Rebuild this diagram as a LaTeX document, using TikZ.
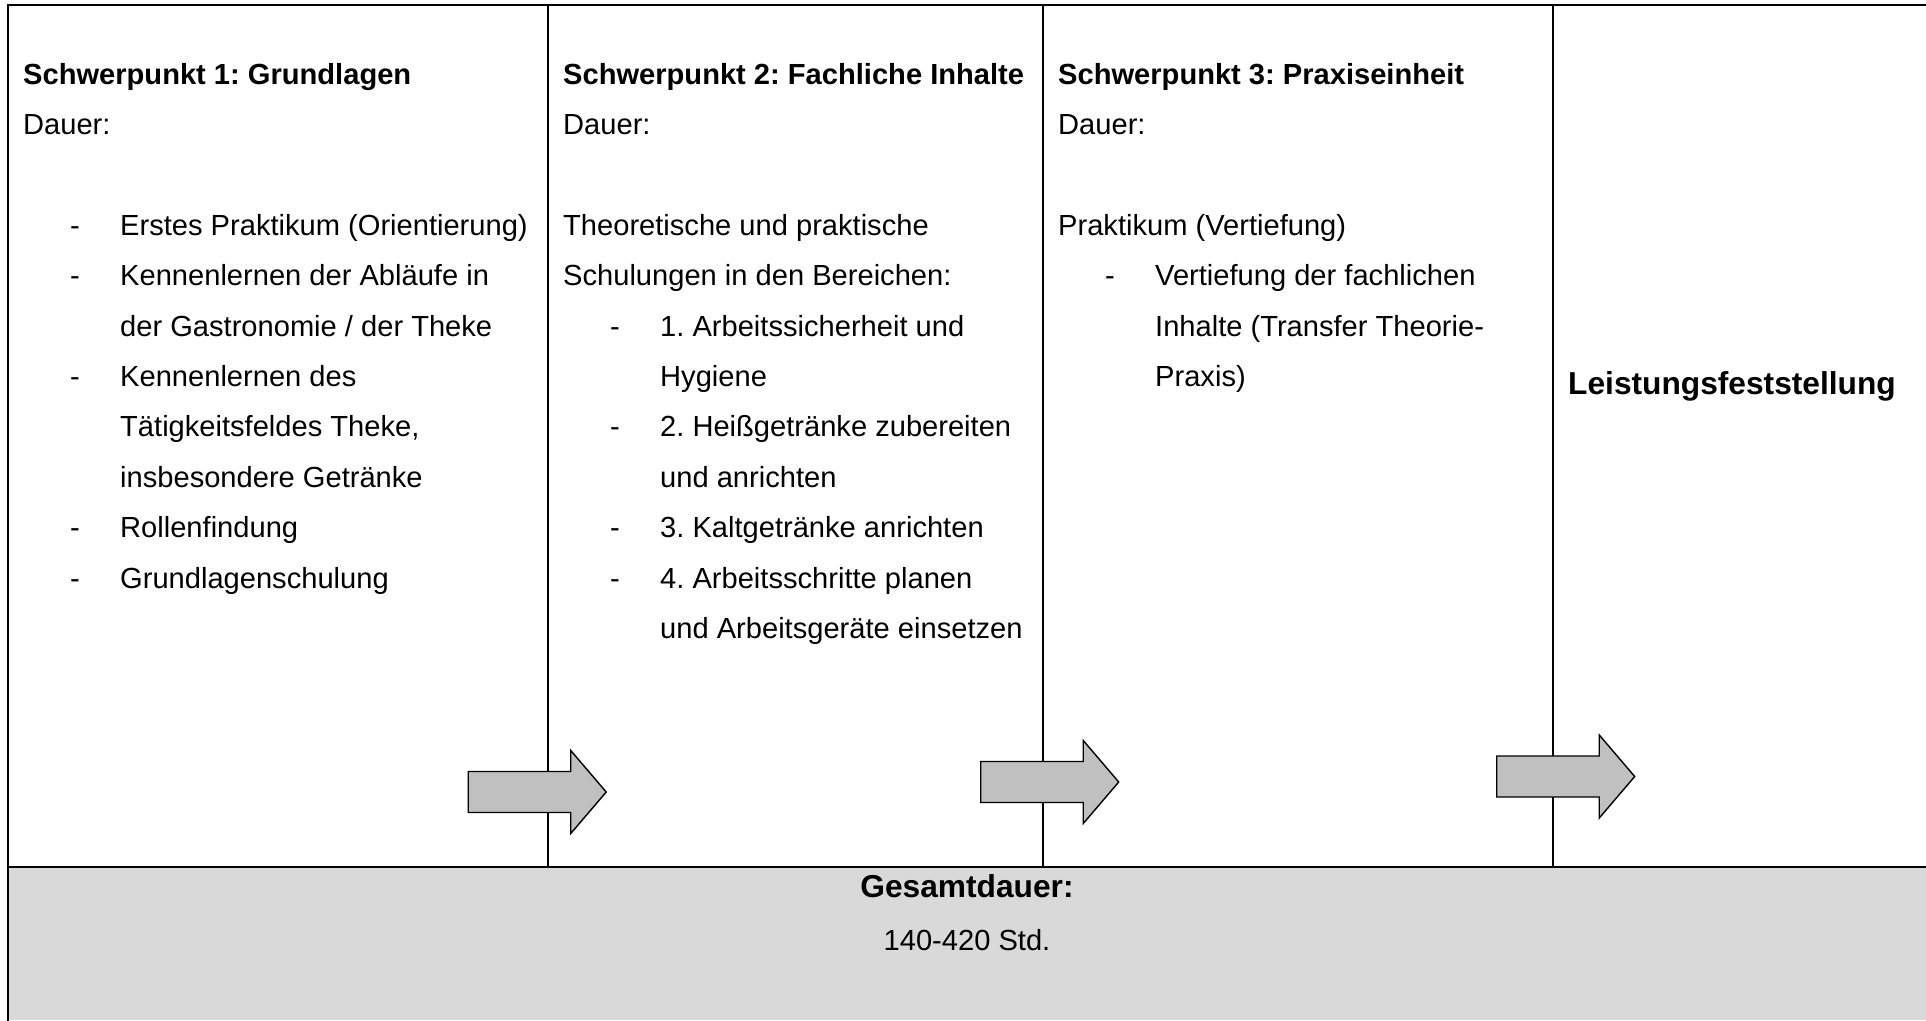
\documentclass[tikz,border=0pt]{standalone}
\usepackage{fontspec}
\setmainfont{Liberation Sans}
\usepackage{tikz}
\usetikzlibrary{shapes.arrows}
\definecolor{bandgray}{HTML}{D9D9D9}
\definecolor{arrowgray}{HTML}{C0C0C0}
\frenchspacing

\begin{document}
\begin{tikzpicture}[x=1pt, y=-1pt,
    frame/.style={line width=2.8pt, line cap=rect},
    txt/.style={anchor=base west, inner sep=0pt, font=\fontsize{29.1}{35}\selectfont},
    hdr/.style={txt, font=\fontsize{29.1}{35}\selectfont\bfseries},
    big/.style={anchor=base, inner sep=0pt, font=\fontsize{31.7}{38}\selectfont\bfseries},
    blockarrow/.style={single arrow, draw=black, fill=arrowgray, line width=1.4pt,
        minimum height=138pt, inner xsep=0pt, inner ysep=19.8pt,
        single arrow head extend=21pt, single arrow tip angle=99, anchor=tail}
]
\useasboundingbox (0,0) rectangle (1926,1020);

% table
\fill[bandgray] (8,867) rectangle (1926,1020);
\draw[frame] (8,1020) -- (8,5) -- (1926,5);
\draw[frame] (8,867) -- (1926,867);
\foreach \x in {548,1043,1553}
    \draw[frame] (\x,5) -- (\x,867);

% Schwerpunkt 1
\node[hdr] (hOne) at (23,84) {Schwerpunkt 1: Grundlagen};
\node[txt] (dOne) at (23,134.4) {Dauer:};
\foreach \n/\txt in {3/Erstes Praktikum (Orientierung), 4/Kennenlernen der Abläufe in,
        5/{der Gastronomie / der Theke}, 6/Kennenlernen des, 7/{Tätigkeitsfeldes Theke,},
        8/insbesondere Getränke, 9/Rollenfindung, 10/Grundlagenschulung}
    \node[txt] (One\n) at (120,{84+50.4*\n}) {\txt};
\foreach \n in {3,4,6,9,10}
    \node[txt] (OneDash\n) at (70,{84+50.4*\n}) {-};

% Schwerpunkt 2
\node[hdr] (hTwo) at (563,84) {Schwerpunkt 2: Fachliche Inhalte};
\node[txt] (dTwo) at (563,134.4) {Dauer:};
\foreach \n/\x/\txt in {3/563/Theoretische und praktische, 4/563/Schulungen in den Bereichen:,
        5/660/1. Arbeitssicherheit und, 6/660/Hygiene, 7/660/2. Heißgetränke zubereiten,
        8/660/und anrichten, 9/660/3. Kaltgetränke anrichten, 10/660/4. Arbeitsschritte planen,
        11/660/und Arbeitsgeräte einsetzen}
    \node[txt] (Two\n) at (\x,{84+50.4*\n}) {\txt};
\foreach \n in {5,7,9,10}
    \node[txt] (TwoDash\n) at (610,{84+50.4*\n}) {-};

% Schwerpunkt 3
\node[hdr] (hThree) at (1058,84) {Schwerpunkt 3: Praxiseinheit};
\node[txt] (dThree) at (1058,134.4) {Dauer:};
\foreach \n/\x/\txt in {3/1058/Praktikum (Vertiefung), 4/1155/Vertiefung der fachlichen,
        5/1155/Inhalte (Transfer Theorie-, 6/1155/Praxis)}
    \node[txt] (Three\n) at (\x,{84+50.4*\n}) {\txt};
\node[txt] (ThreeDash4) at (1105,{84+50.4*4}) {-};

\node[big, anchor=base west] (leist) at (1568,394) {Leistungsfeststellung};

% arrows
\node[blockarrow] (pfOne) at (467.5,792) {};
\node[blockarrow] (pfTwo) at (980,782) {};
\node[blockarrow] (pfThree) at (1496,776.5) {};

% Gesamtdauer
\node[big] (ges) at (967,897) {Gesamtdauer:};
\node[txt, anchor=base] (std) at (967,950) {140-420 Std.};
\end{tikzpicture}
\end{document}
